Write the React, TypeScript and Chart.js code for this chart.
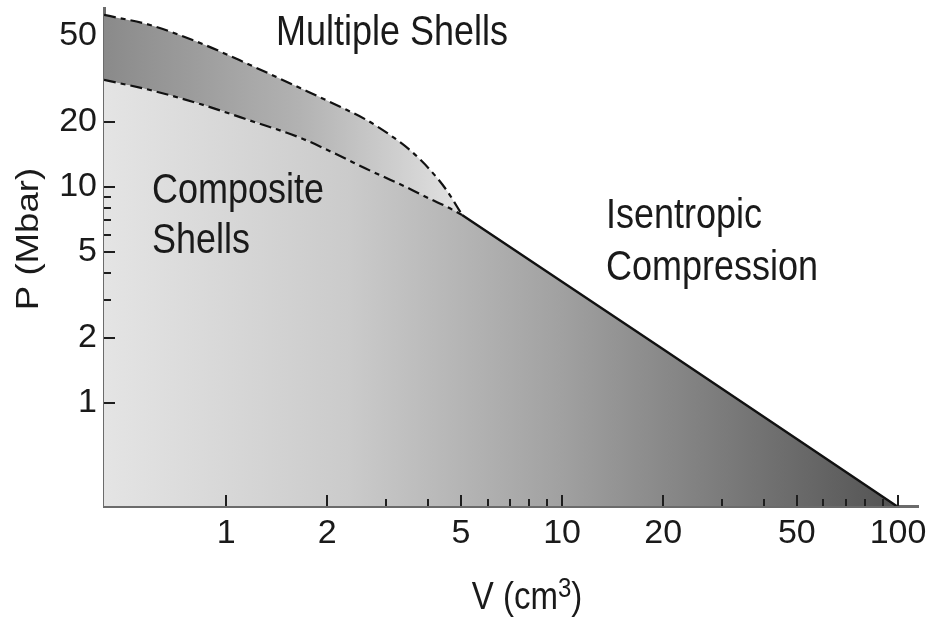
import React, { useEffect, useRef } from 'react';
import { Chart, registerables } from 'chart.js';

Chart.register(...registerables);

// ---- data ----
const V_CURVE = [0.433, 0.594, 0.837, 1.179, 1.661, 2.185, 2.593, 3.077, 3.528, 4.047, 4.548, 5.04];
const P_MULTIPLE_SHELLS = [62.6, 56.2, 46.4, 36.7, 28.7, 23.5, 20.6, 17.4, 14.8, 12.0, 9.58, 7.42];
const P_COMPOSITE_SHELLS = [31.3, 28.1, 24.2, 20.3, 16.9, 13.9, 12.2, 10.8, 9.79, 8.8, 8.08, 7.42];
const V_ISENTROPE = [5.04, 10, 20, 50, 99];
const P_ISENTROPE = [7.42, 3.64, 1.77, 0.68, 0.333];

const X_RANGE = [0.433, 114.7];
const Y_RANGE = [0.333, 67.4];
const X_TICK_LABELS = [1, 2, 5, 10, 20, 50, 100];
const X_MINOR_TICKS = [3, 4, 6, 7, 8, 9, 30, 40, 60, 70, 80, 90];
const Y_TICK_LABELS = [1, 2, 5, 10, 20, 50];
const Y_MAJOR_TICKS = [1, 2, 5, 10, 20];
const Y_MINOR_TICKS = [3, 4, 6, 7, 8, 9];

// ---- styles ----
const FONT = '"Liberation Sans", Arial, Helvetica, sans-serif';
const STRETCH = 1.18;
const TEXT_COLOR = '#1a1a1a';
const AXIS_COLOR = '#6b6b6b';
const LINE_COLOR = '#111111';
const DASH = [12, 5, 5, 5];
const MAIN_STOPS: [number, string][] = [
  [0, '#e4e4e4'],
  [0.3, '#cbcbcb'],
  [0.555, '#a2a2a2'],
  [0.735, '#808080'],
  [1, '#4e4e4e'],
];
const BAND_STOPS: [number, string][] = [
  [0, '#8a8a8a'],
  [0.24, '#b2b2b2'],
  [0.44, '#e2e2e2'],
  [1, '#e2e2e2'],
];

function gradient(stops: [number, string][]) {
  return (context: any) => {
    const chart = context.chart;
    const area = chart.chartArea;
    if (!area) return 'rgba(0,0,0,0)';
    const g = chart.ctx.createLinearGradient(area.left, 0, area.right, 0);
    stops.forEach(([o, c]) => g.addColorStop(o, c));
    return g;
  };
}

function drawStretched(ctx: CanvasRenderingContext2D, text: string, x: number, y: number, size: number) {
  ctx.save();
  ctx.translate(x, y);
  ctx.scale(1, STRETCH);
  ctx.font = `${size}px ${FONT}`;
  ctx.textAlign = 'left';
  ctx.textBaseline = 'alphabetic';
  ctx.fillText(text, 0, 0);
  ctx.restore();
}

const tickMarksPlugin = {
  id: 'innerTicks',
  afterDatasetsDraw(chart: any) {
    const { ctx, chartArea, scales } = chart;
    const x = scales.x;
    const y = scales.y;
    ctx.save();
    ctx.strokeStyle = '#1e1e1e';
    ctx.lineWidth = 2;
    const drawX = (vals: number[], len: number) =>
      vals.forEach((v) => {
        const px = Math.round(x.getPixelForValue(v));
        ctx.beginPath();
        ctx.moveTo(px, chartArea.bottom);
        ctx.lineTo(px, chartArea.bottom - len);
        ctx.stroke();
      });
    const drawY = (vals: number[], len: number) =>
      vals.forEach((v) => {
        const py = Math.round(y.getPixelForValue(v));
        ctx.beginPath();
        ctx.moveTo(chartArea.left, py);
        ctx.lineTo(chartArea.left + len, py);
        ctx.stroke();
      });
    drawX(X_TICK_LABELS, 11);
    drawX(X_MINOR_TICKS, 7);
    drawY(Y_MAJOR_TICKS, 11);
    drawY(Y_MINOR_TICKS, 7);
    ctx.restore();
  },
};

const textPlugin = {
  id: 'texts',
  afterDraw(chart: any) {
    const ctx: CanvasRenderingContext2D = chart.ctx;
    ctx.save();
    ctx.fillStyle = TEXT_COLOR;
    drawStretched(ctx, 'Multiple Shells', 276, 45, 36);
    drawStretched(ctx, 'Composite', 152, 203, 36);
    drawStretched(ctx, 'Shells', 152, 253, 36);
    drawStretched(ctx, 'Isentropic', 606, 228, 36);
    drawStretched(ctx, 'Compression', 606, 280, 36);

    // y axis title
    ctx.save();
    ctx.translate(38, 239);
    ctx.rotate(-Math.PI / 2);
    ctx.scale(STRETCH, 1);
    ctx.font = `31px ${FONT}`;
    ctx.textAlign = 'center';
    ctx.textBaseline = 'alphabetic';
    ctx.fillText('P (Mbar)', 0, 0);
    ctx.restore();

    // x axis title with superscript
    ctx.save();
    const base = `33px ${FONT}`;
    const sup = `24px ${FONT}`;
    ctx.font = base;
    const w1 = ctx.measureText('V (cm').width;
    const w3 = ctx.measureText(')').width;
    ctx.font = sup;
    const w2 = ctx.measureText('3').width;
    const total = w1 + w2 + w3;
    const cx = 527;
    const by = 609;
    const left = cx - total / 2;
    ctx.translate(0, by);
    ctx.scale(1, STRETCH);
    ctx.textBaseline = 'alphabetic';
    ctx.textAlign = 'left';
    ctx.font = base;
    ctx.fillText('V (cm', left, 0);
    ctx.font = sup;
    ctx.fillText('3', left + w1, -10);
    ctx.font = base;
    ctx.fillText(')', left + w1 + w2, 0);
    ctx.restore();

    ctx.restore();
  },
};

export default function App() {
  const canvasRef = useRef<HTMLCanvasElement | null>(null);

  useEffect(() => {
    document.body.style.margin = '0';
    const canvas = canvasRef.current;
    if (!canvas) return;

    const compositePts = V_CURVE.map((v, i) => ({ x: v, y: P_COMPOSITE_SHELLS[i] }));
    const multiplePts = V_CURVE.map((v, i) => ({ x: v, y: P_MULTIPLE_SHELLS[i] }));
    const isentropePts = V_ISENTROPE.map((v, i) => ({ x: v, y: P_ISENTROPE[i] }));
    const regionPts = [...compositePts, ...isentropePts.slice(1)];

    const chart = new Chart(canvas, {
      type: 'line',
      data: {
        datasets: [
          {
            label: 'region',
            data: regionPts,
            borderWidth: 0,
            borderColor: 'rgba(0,0,0,0)',
            backgroundColor: gradient(MAIN_STOPS),
            fill: 'start',
            pointRadius: 0,
            cubicInterpolationMode: 'monotone',
          },
          {
            label: 'Multiple Shells',
            data: multiplePts,
            borderColor: LINE_COLOR,
            borderWidth: 2.2,
            borderDash: DASH,
            backgroundColor: gradient(BAND_STOPS),
            fill: 2,
            pointRadius: 0,
            cubicInterpolationMode: 'monotone',
          },
          {
            label: 'Composite Shells',
            data: compositePts,
            borderColor: LINE_COLOR,
            borderWidth: 2.2,
            borderDash: DASH,
            fill: false,
            pointRadius: 0,
            cubicInterpolationMode: 'monotone',
          },
          {
            label: 'Isentropic Compression',
            data: isentropePts,
            borderColor: LINE_COLOR,
            borderWidth: 2.4,
            fill: false,
            pointRadius: 0,
          },
        ],
      },
      options: {
        animation: false,
        responsive: true,
        maintainAspectRatio: false,
        layout: { padding: { top: 8, right: 14, left: 0, bottom: 0 } },
        plugins: {
          legend: { display: false },
          tooltip: { enabled: false },
          filler: { drawTime: 'beforeDatasetsDraw' },
        },
        elements: { point: { radius: 0 }, line: { tension: 0 } },
        scales: {
          x: {
            type: 'logarithmic',
            position: 'bottom',
            bounds: 'data',
            min: X_RANGE[0],
            max: X_RANGE[1],
            z: 1,
            grid: { display: false, drawTicks: false },
            border: { display: true, color: AXIS_COLOR, width: 3 },
            afterBuildTicks: (s: any) => {
              s.ticks = X_TICK_LABELS.map((v) => ({ value: v }));
            },
            afterFit: (s: any) => {
              s.height = 113;
              s.paddingLeft = 0;
              s.paddingRight = 0;
            },
            ticks: {
              autoSkip: false,
              maxRotation: 0,
              padding: 7,
              color: TEXT_COLOR,
              font: { family: FONT, size: 34 },
              callback: (v: any) => String(v),
            },
          },
          y: {
            type: 'logarithmic',
            position: 'left',
            bounds: 'data',
            min: Y_RANGE[0],
            max: Y_RANGE[1],
            z: 1,
            grid: { display: false, drawTicks: false },
            border: { display: true, color: AXIS_COLOR, width: 3 },
            afterBuildTicks: (s: any) => {
              s.ticks = Y_TICK_LABELS.map((v) => ({ value: v }));
            },
            afterFit: (s: any) => {
              s.width = 104;
              s.paddingTop = 0;
              s.paddingBottom = 0;
            },
            ticks: {
              autoSkip: false,
              padding: 7,
              color: TEXT_COLOR,
              font: { family: FONT, size: 34 },
              callback: (v: any) => String(v),
            },
          },
        },
      } as any,
      plugins: [tickMarksPlugin, textPlugin],
    });

    return () => chart.destroy();
  }, []);

  return (
    <div style={{ position: 'relative', width: '932px', height: '619px' }}>
      <canvas ref={canvasRef} />
    </div>
  );
}
